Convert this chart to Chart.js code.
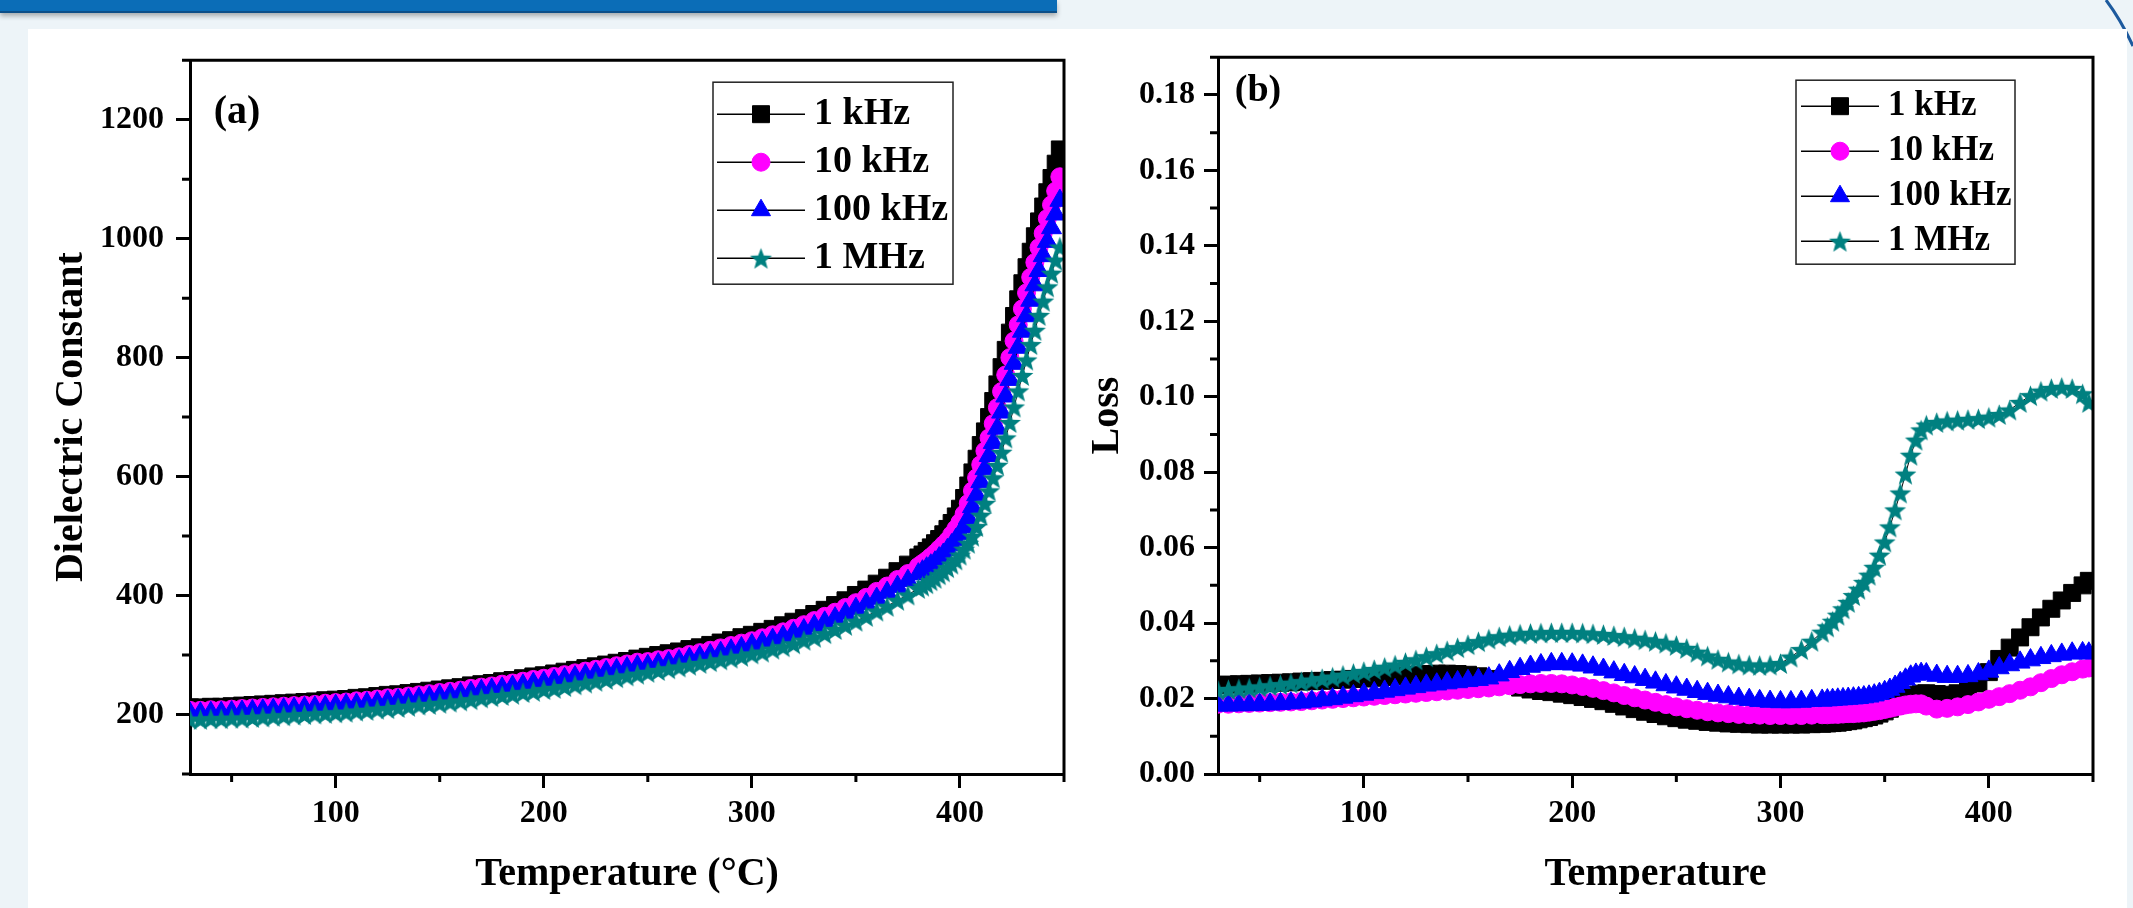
<!DOCTYPE html>
<html>
<head>
<meta charset="utf-8">
<title>Dielectric constant and loss vs temperature</title>
<script src="https://cdn.jsdelivr.net/npm/chart.js@4.4.1/dist/chart.umd.min.js"></script>
<style>
  html, body { margin: 0; padding: 0; }
  body { width: 2133px; height: 908px; overflow: hidden; background: #edf4f8; position: relative; }
  #banner { position: absolute; left: 0; top: 0; width: 1057px; height: 11px; background: #0b6db7;
            border-bottom: 2px solid #0d4f88; box-shadow: 0 3px 5px rgba(0,0,0,0.3); }
  #corner { position: absolute; left: 0; top: 0; }
  #panel { position: absolute; left: 28px; top: 29px; width: 2099px; height: 879px; background: #fff; }
  canvas { position: absolute; top: 29px; }
  #chartA { left: 28px; }
  #chartB { left: 1080px; }
</style>
</head>
<body>
<div id="banner"></div>
<svg id="corner" width="2133" height="60"><path d="M2106 0 Q2121 20 2133 46" stroke="#1d5a9e" stroke-width="3" fill="none"/></svg>
<div id="panel"></div>
<canvas id="chartA" width="1112" height="879"></canvas>
<canvas id="chartB" width="1047" height="879"></canvas>

<script>
// two panels: (a) dielectric constant, (b) loss, both vs temperature

const seriesLabels = ['1 kHz', '10 kHz', '100 kHz', '1 MHz'];
const seriesColors = ['#000000', '#ff00ff', '#0000ff', '#008080'];

// axis ticks
const xTicks = [100, 200, 300, 400];
const xMinor = [50, 150, 250, 350, 450];
const yTicksA = [200, 400, 600, 800, 1000, 1200];
const yMinorA = [100, 300, 500, 700, 900, 1100, 1300];
const yTicksB = [0, 0.02, 0.04, 0.06, 0.08, 0.10, 0.12, 0.14, 0.16, 0.18];
const yMinorB = [0.01, 0.03, 0.05, 0.07, 0.09, 0.11, 0.13, 0.15, 0.17, 0.19];

// (a) temperature in degC
const tempA = [30,35,40,45,50,55,60,65,70,75,80,85,90,95,100,105,110,115,120,125,130,135,140,145,150,155,160,165,170,175,
  180,185,190,195,200,205,210,215,220,225,230,235,240,245,250,255,260,265,270,275,280,285,290,295,300,305,310,315,320,325,
  330,335,340,345,350,355,360,365,370,375,380,
  382,384,386,388,390,392,394,396,398,400,402,404,406,408,410,412,414,416,418,420,422,424,426,428,430,432,434,436,438,440,
  442,444,446,448];

const eps1k = [212,212,213,213,214,215,216,217,218,219,220,221,222,224,225,226,228,229,231,233,
  234,236,238,240,242,244,246,249,251,253,256,258,261,264,266,269,272,275,278,281,
  284,287,290,294,297,300,303,306,310,313,317,321,325,330,334,339,344,350,356,362,
  369,376,384,392,401,410,420,430,441,452,464,
  469,475,481,488,495,503,512,522,533,546,564,585,607,630,653,676,700,727,755,784,
  813,842,870,898,925,952,978,1004,1029,1054,1078,1102,1126,1150];
const eps10k = [207,207,208,208,209,210,211,212,213,214,215,216,217,219,220,221,223,224,226,228,
  229,231,233,235,237,239,241,244,246,248,251,253,256,259,261,264,267,270,273,276,
  279,282,285,288,289,292,294,297,301,304,308,312,316,320,324,329,334,339,345,351,
  358,365,372,380,388,397,407,416,427,437,449,
  454,459,465,471,478,485,492,502,512,523,537,555,576,598,620,643,665,689,716,743,
  771,800,828,855,882,909,935,960,985,1009,1034,1057,1080,1104];
const eps100k = [202,202,203,203,204,205,206,207,208,209,210,211,212,213,215,216,217,219,220,222,
  224,225,227,229,231,233,235,237,240,242,244,247,249,252,254,257,260,263,266,269,
  272,275,278,281,282,285,287,290,294,297,300,304,308,312,317,321,326,331,337,342,
  349,355,362,370,378,386,395,405,415,425,436,
  441,446,451,456,463,469,477,485,494,504,515,530,549,569,591,613,635,657,681,708,
  735,763,790,817,844,870,896,922,946,971,995,1018,1041,1064];
const eps1M = [192,192,193,193,194,194,195,196,197,198,199,200,201,202,203,204,206,207,209,210,
  212,214,216,217,219,221,223,225,228,230,232,234,237,239,242,244,247,250,253,256,
  259,262,265,268,271,274,277,280,283,286,289,292,295,298,302,305,310,314,319,325,
  330,336,343,350,357,365,374,382,392,401,412,
  416,420,425,429,435,440,447,453,460,468,478,488,500,516,535,555,576,598,619,641,
  665,691,717,744,770,796,822,846,871,895,919,942,964,986];

// (b) temperature in degC
const tempB = [30,35,40,45,50,55,60,65,70,75,80,85,90,95,100,105,110,115,120,125,130,135,140,145,150,155,160,165,170,175,
  180,185,190,195,200,205,210,215,220,225,230,235,240,245,250,255,260,265,270,275,280,285,290,295,300,305,310,315,320,
  322.5,325,327.5,330,332.5,335,337.5,340,342.5,345,347.5,350,352.5,355,357.5,360,362.5,365,367.5,370,
  375,380,385,390,395,400,405,410,415,420,425,430,435,440,445,448];

const loss1k = [.0236,.0237,.0238,.0239,.0240,.0241,.0242,.0243,.0245,.0246,.0247,.0249,.0250,.0252,.0253,.0255,.0257,.0259,.0261,.0263,
  .0265,.0266,.0266,.0265,.0263,.0259,.0252,.0244,.0236,.0229,.0224,.0220,.0217,.0213,.0209,.0204,.0199,.0193,.0186,.0179,
  .0172,.0165,.0159,.0153,.0148,.0144,.0141,.0138,.0136,.0134,.0133,.0132,.0131,.0131,.0131,.0131,.0131,.0132,.0133,
  .0134,.0135,.0136,.0138,.0140,.0142,.0145,.0148,.0151,.0155,.0160,.0166,.0173,.0181,.0189,.0197,.0204,.0210,.0213,.0214,
  .0212,.0210,.0214,.0222,.0240,.0270,.0305,.0335,.0362,.0389,.0415,.0438,.0460,.0480,.0500,.0512];
const loss10k = [.0185,.0185,.0186,.0187,.0188,.0189,.0190,.0191,.0192,.0194,.0196,.0198,.0200,.0202,.0204,.0206,.0208,.0210,.0212,.0214,
  .0216,.0218,.0220,.0222,.0224,.0226,.0228,.0231,.0234,.0237,.0239,.0240,.0240,.0239,.0236,.0232,.0227,.0221,.0215,.0208,
  .0202,.0196,.0190,.0184,.0178,.0173,.0169,.0165,.0162,.0160,.0158,.0157,.0156,.0155,.0155,.0155,.0155,.0156,.0157,
  .0157,.0158,.0158,.0159,.0160,.0160,.0161,.0162,.0164,.0166,.0168,.0171,.0174,.0177,.0180,.0183,.0185,.0186,.0186,.0180,
  .0172,.0174,.0178,.0184,.0191,.0198,.0205,.0213,.0222,.0231,.0242,.0253,.0263,.0271,.0278,.0281];
const loss100k = [.0182,.0182,.0183,.0183,.0184,.0185,.0186,.0188,.0190,.0193,.0196,.0199,.0203,.0207,.0211,.0215,.0219,.0223,.0227,.0231,
  .0235,.0238,.0241,.0244,.0247,.0250,.0254,.0262,.0271,.0279,.0285,.0289,.0292,.0292,.0291,.0288,.0283,.0277,.0270,.0263,
  .0257,.0250,.0243,.0236,.0230,.0224,.0218,.0213,.0208,.0204,.0200,.0197,.0194,.0192,.0191,.0191,.0192,.0194,.0195,
  .0196,.0197,.0198,.0199,.0200,.0201,.0202,.0204,.0206,.0209,.0213,.0218,.0224,.0232,.0242,.0251,.0259,.0264,.0266,.0265,
  .0261,.0258,.0258,.0260,.0265,.0272,.0281,.0289,.0296,.0302,.0308,.0313,.0317,.0320,.0321,.0320];
const loss1M = [.0222,.0224,.0226,.0228,.0231,.0234,.0237,.0241,.0245,.0249,.0253,.0257,.0262,.0267,.0272,.0277,.0283,.0289,.0296,.0303,
  .0311,.0319,.0327,.0335,.0343,.0351,.0358,.0364,.0368,.0371,.0373,.0374,.0375,.0375,.0375,.0374,.0372,.0370,.0367,.0364,
  .0360,.0356,.0352,.0347,.0341,.0333,.0323,.0313,.0304,.0297,.0292,.0289,.0288,.0289,.0293,.0310,.0330,.0352,.0376,
  .0390,.0405,.0421,.0438,.0455,.0473,.0490,.0508,.0527,.0548,.0580,.0615,.0655,.0700,.0745,.0795,.0845,.0885,.0912,.0925,
  .0932,.0936,.0938,.0940,.0942,.0946,.0953,.0965,.0985,.1003,.1015,.1022,.1025,.1022,.1008,.0985];

const FAM = "'Times New Roman', 'Liberation Serif', serif";
Chart.defaults.font.family = FAM;
Chart.defaults.color = '#000';

// filled five point star, chart.js 'star' is only lines
function starImage(r, color) {
  const c = document.createElement('canvas');
  const s = Math.ceil(r * 2) + 2;
  c.width = c.height = s;
  const g = c.getContext('2d');
  g.translate(s / 2, s / 2 + r * 0.1);
  g.beginPath();
  for (let i = 0; i < 10; i++) {
    const rad = i % 2 ? r * 0.42 : r;
    const a = -Math.PI / 2 + i * Math.PI / 5;
    g.lineTo(rad * Math.cos(a), rad * Math.sin(a));
  }
  g.closePath();
  g.fillStyle = color;
  g.fill();
  return c;
}

const markerStyles = ['rect', 'circle', 'triangle', starImage(11.5, seriesColors[3])];
const markerRadii = [12, 9, 11.5, 11];

function makeDatasets(temps, seriesList) {
  return seriesList.map((vals, i) => ({
    label: seriesLabels[i],
    data: temps.map((t, j) => ({ x: t, y: vals[j] })),
    borderColor: '#000',
    borderWidth: 1,
    pointStyle: markerStyles[i],
    pointRadius: markerRadii[i],
    pointBackgroundColor: seriesColors[i],
    pointBorderColor: seriesColors[i],
    pointBorderWidth: 1,
    order: 4 - i,     // 1 MHz ends up on top like the origin plot
    clip: 0,
    tension: 0
  }));
}

// closes the frame, adds minor ticks, the (a)/(b) tag and the boxed legend
function panelDecor(cfg) {
  return {
    id: 'panelDecor',
    afterDraw(chart) {
      const { ctx, chartArea: a, scales } = chart;
      ctx.save();
      ctx.strokeStyle = '#000';
      ctx.lineWidth = 3;
      ctx.beginPath();
      ctx.moveTo(a.left, a.top);
      ctx.lineTo(a.right, a.top);
      ctx.lineTo(a.right, a.bottom);
      ctx.stroke();

      ctx.beginPath();
      cfg.minorX.forEach(v => {
        const px = scales.x.getPixelForValue(v);
        ctx.moveTo(px, a.bottom);
        ctx.lineTo(px, a.bottom + 8);
      });
      cfg.minorY.forEach(v => {
        const py = scales.y.getPixelForValue(v);
        ctx.moveTo(a.left - 8, py);
        ctx.lineTo(a.left, py);
      });
      ctx.stroke();

      ctx.fillStyle = '#000';
      ctx.font = 'bold ' + cfg.tagSize + 'px ' + FAM;
      ctx.textAlign = 'center';
      ctx.textBaseline = 'middle';
      ctx.fillText(cfg.tag, a.left + cfg.tagDx, a.top + cfg.tagDy);

      const L = cfg.legend;
      const bx = a.left + L.dx, by = a.top + L.dy;
      ctx.lineWidth = 1.5;
      ctx.strokeStyle = '#222';
      ctx.strokeRect(bx, by, L.w, L.h);
      chart.data.datasets.forEach((ds, i) => {
        const y = by + L.rowTop + i * L.rowGap;
        ctx.beginPath();
        ctx.lineWidth = 1.5;
        ctx.strokeStyle = '#000';
        ctx.moveTo(bx + L.lineL, y);
        ctx.lineTo(bx + L.lineR, y);
        ctx.stroke();
        ctx.fillStyle = ds.pointBackgroundColor;
        ctx.strokeStyle = ds.pointBorderColor;
        ctx.lineWidth = 1;
        Chart.helpers.drawPoint(ctx, { pointStyle: ds.pointStyle, radius: L.radii[i], rotation: 0, borderWidth: 1 }, bx + L.markX, y);
        ctx.fillStyle = '#000';
        ctx.font = 'bold ' + L.font + 'px ' + FAM;
        ctx.textAlign = 'left';
        ctx.textBaseline = 'middle';
        ctx.fillText(ds.label, bx + L.textX, y);
      });
      ctx.restore();
    }
  };
}

function buildChart(id, o) {
  return new Chart(document.getElementById(id), {
    type: 'line',
    data: { datasets: makeDatasets(o.temps, o.series) },
    options: {
      responsive: false,
      animation: false,
      devicePixelRatio: 1,
      events: [],
      layout: { padding: { top: 25, right: o.padRight, left: 0, bottom: 0 } },
      plugins: { legend: { display: false }, tooltip: { enabled: false } },
      scales: {
        x: {
          type: 'linear', min: 30, max: 450,
          afterBuildTicks: s => { s.ticks = xTicks.map(v => ({ value: v })); },
          afterFit: s => { s.height = 134; },
          border: { color: '#000', width: 3 },
          grid: { drawOnChartArea: false, tickLength: 14, tickWidth: 3, tickColor: '#000' },
          ticks: { font: { size: 32, weight: 'bold' }, color: '#000', padding: 7, maxRotation: 0, autoSkip: false,
                   callback: v => String(v) },
          title: { display: true, text: o.xTitle, font: { size: 40, weight: 'bold' }, color: '#000',
                   padding: { top: 0, bottom: 9 } }
        },
        y: {
          type: 'linear', min: o.yMin, max: o.yMax,
          afterBuildTicks: s => { s.ticks = o.yTicks.map(v => ({ value: v })); },
          afterFit: s => { s.width = o.yWidth; },
          border: { color: '#000', width: 3 },
          grid: { drawOnChartArea: false, tickLength: 14, tickWidth: 3, tickColor: '#000' },
          ticks: { font: { size: 32, weight: 'bold' }, color: '#000', padding: o.yTickPad, autoSkip: false,
                   callback: o.yFormat },
          title: { display: true, text: o.yTitle, font: { size: 40, weight: 'bold' }, color: '#000',
                   padding: { top: o.yTitlePad, bottom: 0 } }
        }
      }
    },
    plugins: [panelDecor(o.decor)]
  });
}

buildChart('chartA', {
  temps: tempA,
  series: [eps1k, eps10k, eps100k, eps1M],
  padRight: 76, yWidth: 162, yTickPad: 12, yTitlePad: 20,
  yMin: 100, yMax: 1300, yTicks: yTicksA,
  yFormat: v => String(v),
  xTitle: 'Temperature (\u00B0C)',
  yTitle: 'Dielectric Constant',
  decor: {
    minorX: xMinor, minorY: yMinorA,
    tag: '(a)', tagSize: 40, tagDx: 47, tagDy: 52,
    legend: { dx: 523, dy: 22, w: 240, h: 202, rowTop: 32, rowGap: 48, lineL: 4, lineR: 92, markX: 48,
              textX: 101, font: 38, radii: [12, 9, 11, 10] }
  }
});

buildChart('chartB', {
  temps: tempB,
  series: [loss1k, loss10k, loss100k, loss1M],
  padRight: 34, yWidth: 138, yTickPad: 9, yTitlePad: 4,
  yMin: 0, yMax: 0.19, yTicks: yTicksB,
  yFormat: v => v.toFixed(2),
  xTitle: 'Temperature',
  yTitle: 'Loss',
  decor: {
    minorX: xMinor, minorY: yMinorB,
    tag: '(b)', tagSize: 38, tagDx: 40, tagDy: 34,
    legend: { dx: 578, dy: 23, w: 219, h: 184, rowTop: 26, rowGap: 45, lineL: 5, lineR: 83, markX: 44,
              textX: 92, font: 35, radii: [12, 9, 11, 10] }
  }
});
</script>
</body>
</html>
